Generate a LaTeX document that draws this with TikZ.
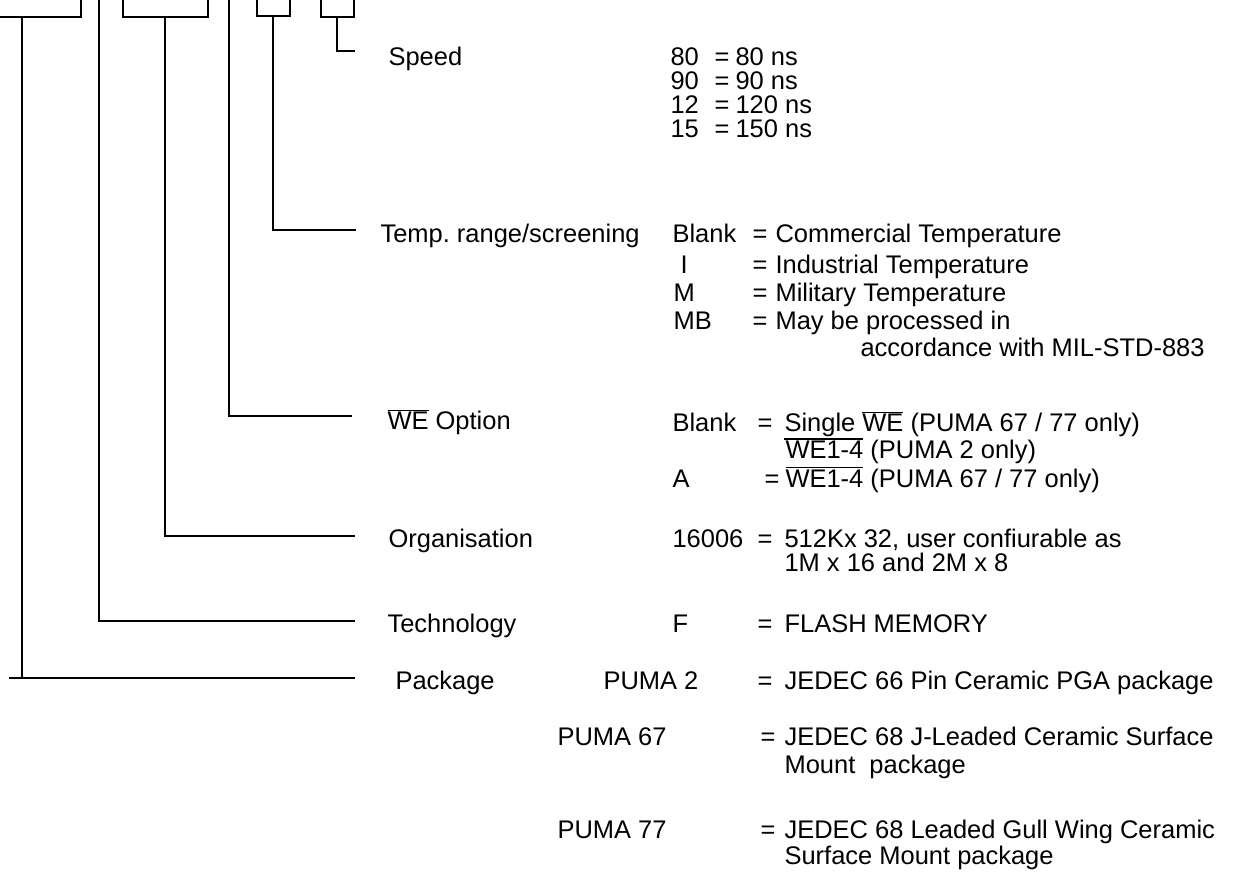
\documentclass[tikz,border=0pt]{standalone}
\usepackage{fontspec}
\setmainfont{Liberation Sans}
\frenchspacing
\newcommand{\ovl}[1]{$\overline{\mbox{#1}}$}

\begin{document}
\begin{tikzpicture}[x=0.02cm,y=-0.02cm,line width=0.6pt,
  lbl/.style={anchor=base west,inner sep=0pt,font=\fontsize{14.5}{17}\selectfont}]
\useasboundingbox (0,0) rectangle (1236,884);
% open boxes cut by the top edge
\draw (0,17) -| (81,0);
\draw (123,0) |- (208,17) -- (208,0);
\draw (257,0) |- (290,16) -- (290,0);
\draw (321,0) |- (354,17) -- (354,0);
\coordinate (b1) at (22,17);
\coordinate (tv) at (99,0);
\coordinate (b2) at (165,17);
\coordinate (wv) at (229,0);
\coordinate (b3) at (273,16);
\coordinate (b4) at (337,17);
\coordinate (eSpd) at (355,51);
\coordinate (eTmp) at (356,230);
\coordinate (eWe) at (352,416);
\coordinate (eOrg) at (355,536);
\coordinate (eTec) at (355,621);
\coordinate (ePkg) at (355,678);
\coordinate (pk0) at (9,678);
\draw (b4) |- (eSpd);
\draw (b3) |- (eTmp);
\draw (wv) |- (eWe);
\draw (b2) |- (eOrg);
\draw (tv) |- (eTec);
\draw (b1) |- (ePkg);
\draw (pk0) -- (ePkg);
\node[lbl] (spd) at (388,66) {Speed};
\node[lbl] (tmp) at (380,243) {Temp. range/screening};
\node[lbl] (weo) at (387,430) {\ovl{WE} Option};
\node[lbl] (org) at (388,547) {Organisation};
\node[lbl] (tec) at (387,632) {Technology};
\node[lbl] (pkg) at (395,689) {Package};
\foreach \y/\xc/\c/\xq/\xd/\d in {66/670/80/714/735/{80 ns},90/670/90/714/735/{90 ns},
  114/670/12/714/735/{120 ns},138/670/15/714/735/{150 ns},
  243/672/Blank/752/775/{Commercial Temperature},274/680/I/752/775/{Industrial Temperature},
  302/673/M/752/775/{Military Temperature},330/673/MB/752/775/{May be processed in},
  432/672/Blank/757/784/{Single \ovl{WE} (PUMA 67 / 77 only)},
  487/672/A/764/785/{\ovl{WE1-4} (PUMA 67 / 77 only)},
  547/672/16006/757/784/{512Kx 32, user confiurable as},
  632/672/F/757/784/{FLASH MEMORY},
  689/603/PUMA 2/757/784/{JEDEC 66 Pin Ceramic PGA package},
  745/557/PUMA 67/760/784/{JEDEC 68 J-Leaded Ceramic Surface},
  838/557/PUMA 77/760/784/{JEDEC 68 Leaded Gull Wing Ceramic}}{
  \node[lbl] (c\y) at (\xc,\y) {\c};
  \node[lbl] (q\y) at (\xq,\y) {=};
  \node[lbl] (d\y) at (\xd,\y) {\d};}
\node[lbl] (d357) at (860,357) {accordance with MIL-STD-883};
\node[lbl] (d459) at (785,459) {WE1-4 (PUMA 2 only)};
\draw (d459.base west) ++(-1,-20) -- ++(79,0);
\node[lbl] (d571) at (784,571) {1M x 16 and 2M x 8};
\node[lbl] (d773) at (784,773) {Mount\ \ package};
\node[lbl] (d864) at (784,864) {Surface Mount package};
\end{tikzpicture}
\end{document}
